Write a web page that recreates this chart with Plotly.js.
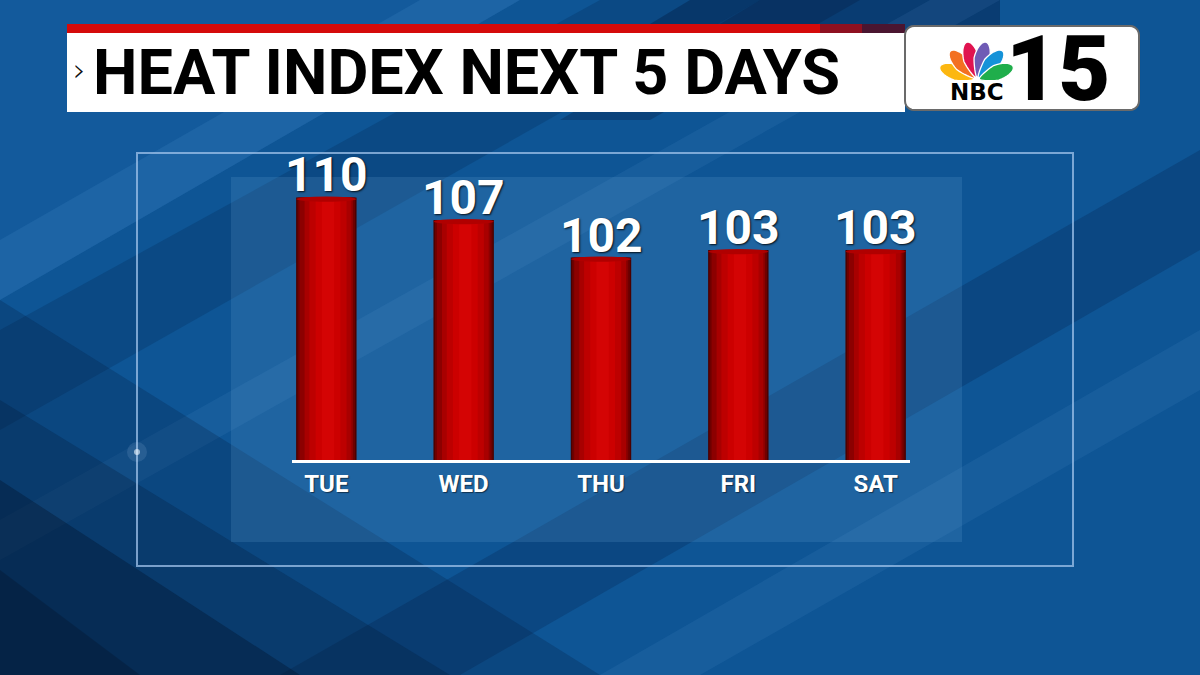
<!DOCTYPE html>
<html><head><meta charset="utf-8">
<script src="https://cdn.plot.ly/plotly-3.0.1.min.js"></script>
<style>html,body{margin:0;padding:0;background:#0e5595;overflow:hidden}#chart{width:1200px;height:675px}</style>
</head><body><div id="chart"></div>
<script>
// ---- data ----
const days = ['TUE', 'WED', 'THU', 'FRI', 'SAT'];
const heatIndex = [110, 107, 102, 103, 103];
const titleText = 'HEAT INDEX NEXT 5 DAYS';
const logoWord = 'NBC';
const logoNumber = '15';

// ---- helpers (pixel -> paper) ----
const W = 1200, H = 675;
const px = x => x / W;
const py = y => 1 - y / H;
function poly(pts) {
  return 'M' + pts.map(p => px(p[0]).toFixed(5) + ',' + py(p[1]).toFixed(5)).join(' L') + ' Z';
}
function rectShape(x0, y0, x1, y1, fill, line, lw, layer) {
  return {type: 'rect', xref: 'paper', yref: 'paper', x0: px(x0), x1: px(x1), y0: py(y1), y1: py(y0),
    fillcolor: fill, line: {color: line || 'rgba(0,0,0,0)', width: lw || 0}, layer: layer || 'below'};
}
function polyShape(pts, fill, layer) {
  return {type: 'path', xref: 'paper', yref: 'paper', path: poly(pts), fillcolor: fill,
    line: {width: 0}, layer: layer || 'below'};
}
function roundRect(x0, y0, x1, y1, r) {
  const pts = [];
  const corners = [[x1 - r, y0 + r, -90], [x1 - r, y1 - r, 0], [x0 + r, y1 - r, 90], [x0 + r, y0 + r, 180]];
  corners.forEach(c => {
    for (let k = 0; k <= 6; k++) {
      const a = (c[2] + k * 15) * Math.PI / 180;
      pts.push([c[0] + r * Math.cos(a), c[1] + r * Math.sin(a)]);
    }
  });
  return poly(pts);
}
function feather(cx, cy, angDeg, dist, len, wid) {
  const a = angDeg * Math.PI / 180;
  const ux = Math.sin(a), uy = -Math.cos(a);
  const vx = Math.cos(a), vy = Math.sin(a);
  const ex = cx + ux * dist, ey = cy + uy * dist;
  const pts = [];
  for (let k = 0; k < 36; k++) {
    const t = k / 36 * 2 * Math.PI;
    const rl = len / 2, rw = wid / 2;
    const s = Math.cos(t);
    const w = rw * Math.sin(t) * (s < 0 ? (0.5 + 0.5 * (1 + s)) : 1);
    pts.push([ex + ux * rl * s + vx * w, ey + uy * rl * s + vy * w]);
  }
  return poly(pts);
}

// ---- background ----
const shapes = [
  polyShape([[0, 0], [0, 300], [520, 0]], 'rgba(30,100,170,0.35)'),
  polyShape([[0, 240], [0, 300], [520, 0], [420, 0]], 'rgba(110,170,230,0.12)'),
  polyShape([[560, 120], [650, 120], [860, 0], [760, 0]], 'rgba(5,35,75,0.35)'),
  polyShape([[690, 0], [1000, 0], [1000, 30], [640, 30]], 'rgba(5,30,70,0.45)'),
  polyShape([[0, 330], [0, 430], [760, 0], [600, 0]], 'rgba(5,40,85,0.25)'),
  polyShape([[0, 520], [0, 560], [1000, 0], [930, 0]], 'rgba(110,170,230,0.10)'),
  polyShape([[280, 675], [460, 675], [1200, 250], [1200, 150]], 'rgba(5,40,85,0.30)'),
  polyShape([[600, 675], [700, 675], [1200, 390], [1200, 330]], 'rgba(110,170,230,0.10)'),
  polyShape([[0, 300], [0, 675], [600, 675]], 'rgba(3,25,55,0.22)'),
  polyShape([[0, 400], [0, 675], [450, 675]], 'rgba(3,22,50,0.25)'),
  polyShape([[0, 480], [0, 675], [300, 675]], 'rgba(2,18,40,0.35)'),
  polyShape([[0, 570], [0, 675], [140, 675]], 'rgba(2,15,35,0.30)'),
  // chart frame and inner panel
  rectShape(231, 177, 962, 542, 'rgba(120,175,225,0.17)'),
  rectShape(137, 153, 1073, 566, 'rgba(0,0,0,0)', 'rgba(160,195,235,0.75)', 2),
  {type: 'circle', xref: 'paper', yref: 'paper', x0: px(127), x1: px(147), y0: py(462), y1: py(442),
    fillcolor: 'rgba(200,225,255,0.12)', line: {width: 0}, layer: 'below'},
  {type: 'circle', xref: 'paper', yref: 'paper', x0: px(134), x1: px(140), y0: py(455), y1: py(449),
    fillcolor: 'rgba(240,248,255,0.6)', line: {width: 0}, layer: 'below'},
  // title bar
  rectShape(67, 24, 905, 33, '#d50a0a', null, 0, 'above'),
  rectShape(820, 24, 862, 33, '#8e1020', null, 0, 'above'),
  rectShape(862, 24, 905, 33, '#4a1530', null, 0, 'above'),
  rectShape(67, 33, 905, 112, '#ffffff', null, 0, 'above'),
  // logo box
  {type: 'path', xref: 'paper', yref: 'paper', path: roundRect(905, 26, 1139, 110, 9),
    fillcolor: '#ffffff', line: {color: '#6a6a6a', width: 2}, layer: 'above'}
];
// peacock
const featherColors = ['#fcb711', '#f37021', '#e0134f', '#6f5bb5', '#1592d8', '#1fae4b'];
const featherAngles = [-70, -42, -14, 14, 42, 70];
featherColors.forEach((c, i) => {
  shapes.push({type: 'path', xref: 'paper', yref: 'paper',
    path: feather(976.5, 80, featherAngles[i], 21, 36, 15.5),
    fillcolor: c, line: {color: '#ffffff', width: 1.3}, layer: 'above'});
});

// ---- bars (layered to fake cylinder shading) ----
const layers = [
  {w: 0.44, c: '#4a0000'},
  {w: 0.42, c: '#6e0000'},
  {w: 0.39, c: '#8c0000'},
  {w: 0.34, c: '#a80000'},
  {w: 0.27, c: '#bd0000'},
  {w: 0.18, c: '#cc0000'},
  {w: 0.09, c: '#d40404'}
];
const xIdx = days.map((d, i) => i);
const barBase = 74.6; // bars start a touch below the baseline, like the rounded cylinder bottoms
const traces = layers.map((L, k) => ({
  type: 'bar', x: xIdx, y: heatIndex.map(v => v - barBase), base: barBase,
  width: L.w, offset: -L.w / 2 + (k > 2 ? 0.012 : 0),
  marker: {color: L.c, line: {width: 0}},
  hoverinfo: 'skip', textposition: 'none'
}));

// cylinder top caps
heatIndex.forEach((v, i) => {
  shapes.push({type: 'circle', xref: 'x', yref: 'y', x0: i - 0.22, x1: i + 0.22,
    y0: v - 0.55, y1: v + 0.12, fillcolor: '#b00000', line: {width: 0}, layer: 'above'});
});

const valueLabels = heatIndex.map((v, i) => ({
  xref: 'x', yref: 'y', x: i, y: v, xanchor: 'center', yanchor: 'bottom', yshift: -8,
  text: String(v), showarrow: false,
  font: {family: 'Roboto, "Open Sans", sans-serif', size: 48, weight: 700, color: '#ffffff',
    shadow: '1px 1px 2px rgba(0,0,0,0.85)'}
}));

const layout = {
  width: W, height: H,
  margin: {l: 0, r: 0, t: 0, b: 0},
  paper_bgcolor: '#0e5595',
  plot_bgcolor: 'rgba(0,0,0,0)',
  barmode: 'overlay',
  showlegend: false,
  xaxis: {
    domain: [px(292), px(910)], range: [-0.25, 4.25],
    tickmode: 'array', tickvals: xIdx, ticktext: days,
    showgrid: false, zeroline: false, ticks: '',
    showline: true, linecolor: '#ffffff', linewidth: 3, layer: 'below traces',
    ticklabelstandoff: 0,
    tickfont: {family: 'Roboto, "Open Sans", sans-serif', size: 24, weight: 700, color: '#ffffff',
      shadow: '1px 1px 1px rgba(0,0,0,0.5)'},
    fixedrange: true
  },
  yaxis: {
    domain: [py(460), py(145)], range: [75, 117],
    showgrid: false, zeroline: false, showticklabels: false, ticks: '', showline: false,
    fixedrange: true
  },
  shapes: shapes,
  annotations: valueLabels.concat([
    {xref: 'paper', yref: 'paper', x: px(71), y: py(70), xanchor: 'left', yanchor: 'middle',
      text: '›', showarrow: false, font: {family: 'DejaVu Sans', size: 32, weight: 300, color: '#111111'}},
    {xref: 'paper', yref: 'paper', x: px(91), y: py(73), xanchor: 'left', yanchor: 'middle',
      text: titleText, showarrow: false,
      font: {family: 'Roboto, sans-serif', size: 63, weight: 700, color: '#000000'}},
    {xref: 'paper', yref: 'paper', x: px(976.5), y: py(92), xanchor: 'center', yanchor: 'middle',
      text: logoWord, showarrow: false,
      font: {family: '"DejaVu Sans", sans-serif', size: 23, weight: 700, color: '#000000'}},
    {xref: 'paper', yref: 'paper', x: px(1058), y: py(69), xanchor: 'center', yanchor: 'middle',
      text: logoNumber, showarrow: false,
      font: {family: 'Roboto, sans-serif', size: 90, weight: 900, color: '#000000'}}
  ])
};

Plotly.newPlot('chart', traces, layout, {displayModeBar: false, staticPlot: true});
</script>
</body></html>
